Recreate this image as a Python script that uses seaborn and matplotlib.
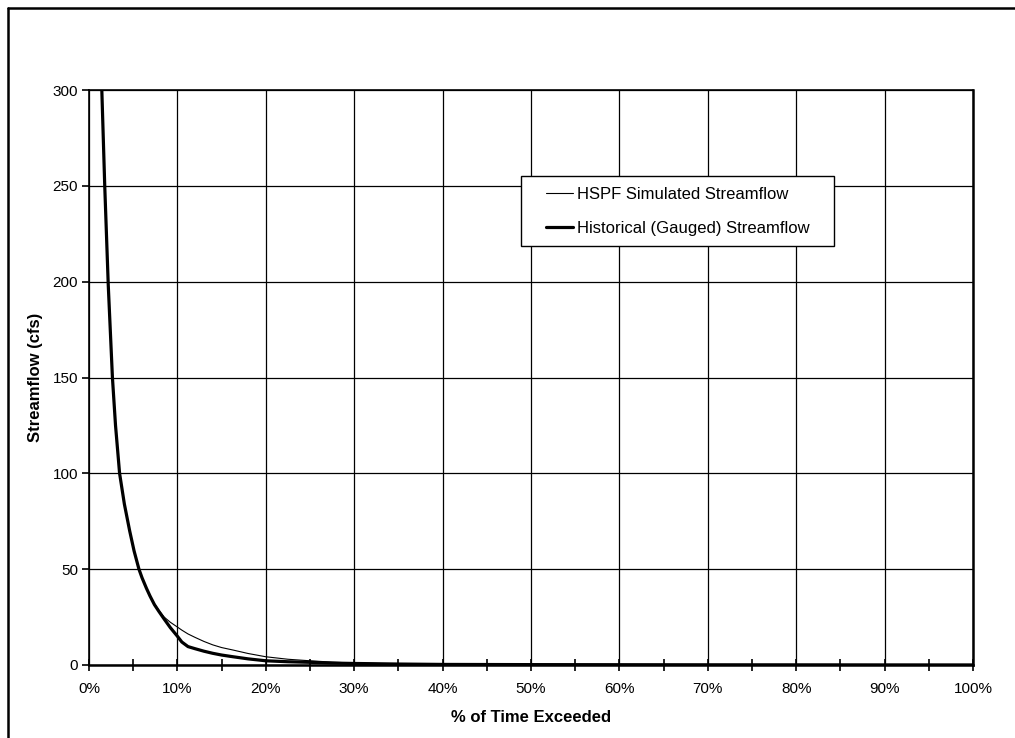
import matplotlib
matplotlib.use("Agg")
import matplotlib.pyplot as plt
from matplotlib.lines import Line2D
from matplotlib.patches import Rectangle
from matplotlib.ticker import MultipleLocator, FuncFormatter
import seaborn as sns
import pandas as pd

# % of time exceeded
pct_exceeded = [0.5, 1.0, 1.45, 1.78, 2.18, 2.65, 3.0, 3.46, 4.0, 4.6, 5.1, 5.65, 6.0,
                6.5, 6.9, 7.4, 7.9, 8.5, 9.2, 10.0, 10.5, 11.2, 12.0, 13.0, 14.0,
                15.0, 16.3, 18.0, 20.0, 22.5, 25.0, 27.5, 30.0, 35.0, 40.0, 50.0,
                60.0, 70.0, 80.0, 90.0, 100.0]
# HSPF simulated streamflow (cfs)
hspf_flow = [900, 480, 300, 250, 200, 150, 125, 100, 84, 70, 59.5, 50, 45.5,
             40, 36.2, 32, 28.6, 25, 22.3, 19.8, 18.2, 16.2, 14.4, 12.3, 10.5,
             9.1, 7.8, 6.0, 4.3, 3.0, 2.2, 1.5, 1.0, 0.6, 0.4, 0.25,
             0.2, 0.15, 0.1, 0.08, 0.05]
# Historical (gauged) streamflow (cfs)
hist_flow = [900, 470, 300, 250, 198, 150, 125, 100, 84, 70, 59.5, 50, 45.5,
             40, 36, 31.5, 28, 24, 19.5, 15.0, 12.0, 9.6, 8.5, 7.2, 6.1,
             5.2, 4.3, 3.2, 2.2, 1.7, 1.4, 1.0, 0.8, 0.5, 0.3, 0.2,
             0.15, 0.1, 0.08, 0.05, 0.03]

series_names = ["HSPF Simulated Streamflow", "Historical (Gauged) Streamflow"]

df = pd.DataFrame({
    "pct": pct_exceeded * 2,
    "flow": hspf_flow + hist_flow,
    "series": [series_names[0]] * len(pct_exceeded) + [series_names[1]] * len(pct_exceeded),
})

sns.set_style("white")
plt.rcParams["font.family"] = ["Liberation Sans", "DejaVu Sans"]
plt.rcParams["text.color"] = "black"
plt.rcParams["axes.labelcolor"] = "black"
plt.rcParams["xtick.color"] = "black"
plt.rcParams["ytick.color"] = "black"

fig = plt.figure(figsize=(10.15, 7.38), dpi=100)
ax = fig.add_axes([89 / 1015, 1 - 665 / 738, (973 - 89) / 1015, (665 - 90) / 738])

sns.lineplot(data=df, x="pct", y="flow", hue="series", size="series",
             sizes={series_names[0]: 0.8, series_names[1]: 2.3},
             palette={series_names[0]: "black", series_names[1]: "black"},
             estimator=None, sort=False, ax=ax, legend=False)

ax.set_xlim(0, 100)
ax.set_ylim(0, 300)
ax.xaxis.set_major_locator(MultipleLocator(10))
ax.xaxis.set_minor_locator(MultipleLocator(5))
ax.yaxis.set_major_locator(MultipleLocator(50))
ax.xaxis.set_major_formatter(FuncFormatter(lambda v, p: f"{int(round(v))}%"))

ax.grid(True, which="major", color="black", linewidth=0.9)
ax.set_axisbelow(True)
for s in ax.spines.values():
    s.set_visible(True)
    s.set_color("black")
    s.set_linewidth(1.2)
ax.spines["bottom"].set_linewidth(1.8)
ax.spines["right"].set_linewidth(1.8)

ax.tick_params(axis="x", which="both", direction="inout", length=8, width=1.2,
               labelsize=11, pad=8, colors="black", bottom=True)
ax.tick_params(axis="y", which="major", direction="out", length=5, width=1.2,
               labelsize=11, pad=3, colors="black", left=True)

ax.set_xlabel("% of Time Exceeded", fontsize=12, fontweight="bold", labelpad=10,
              color="black")
ax.set_ylabel("Streamflow (cfs)", fontsize=12, fontweight="bold", labelpad=7,
              color="black")

# legend frame
ax.add_patch(Rectangle(((521 - 89) / 884, (665 - 246) / 575), 313 / 884, 70 / 575,
                       transform=ax.transAxes, facecolor="white", edgecolor="black",
                       linewidth=1.0, zorder=4))
handles = [Line2D([], [], color="black", linewidth=0.8),
           Line2D([], [], color="black", linewidth=2.3)]
leg = ax.legend(handles, series_names, loc="upper left",
                bbox_to_anchor=((546 - 89) / 884, (665 - 187) / 575),
                borderaxespad=0, borderpad=0, frameon=False, fontsize=12,
                handlelength=1.6, handletextpad=0.25, labelspacing=1.15,
                labelcolor="black")
leg.set_zorder(5)

# figure border (only top and left visible in the crop)
fig.add_artist(Line2D([7.5 / 1015, 1.0], [1 - 7.5 / 738, 1 - 7.5 / 738],
                      color="black", linewidth=1.8, transform=fig.transFigure))
fig.add_artist(Line2D([7.5 / 1015, 7.5 / 1015], [0, 1 - 7.5 / 738],
                      color="black", linewidth=1.8, transform=fig.transFigure))

fig.savefig("out.png", dpi=100, facecolor="white")
